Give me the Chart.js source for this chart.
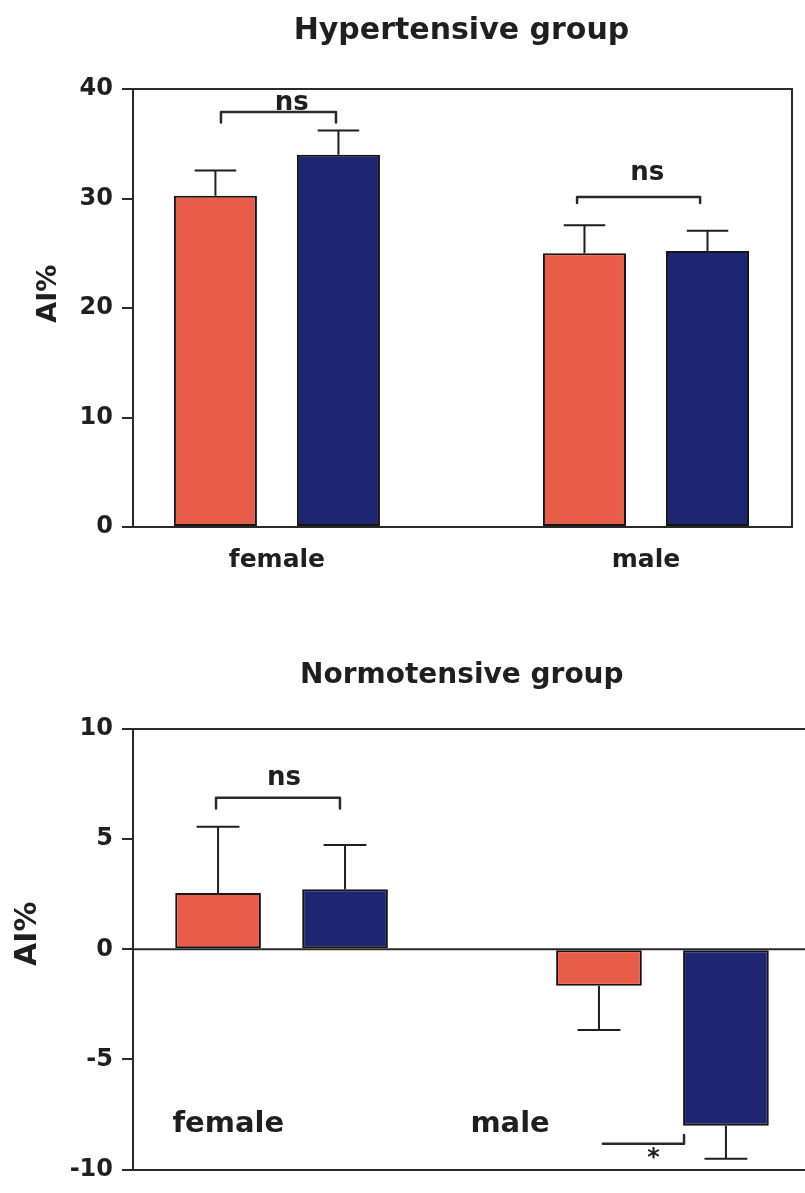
<!DOCTYPE html>
<html>
<head>
<meta charset="utf-8">
<title>AI% by sex</title>
<script src="https://cdn.jsdelivr.net/npm/chart.js@4.4.0/dist/chart.umd.min.js"></script>
<style>
  html, body { margin: 0; padding: 0; background: #fff; overflow: hidden; }
  #wrap { position: relative; width: 805px; height: 1193px; overflow: hidden; }
  #hyper { position: absolute; left: 0; top: 0; }
  #normo { position: absolute; left: 0; top: 600px; }
</style>
</head>
<body>
<div id="wrap">
  <canvas id="hyper" width="805" height="600"></canvas>
  <canvas id="normo" width="820" height="593"></canvas>
</div>
<script>
// data
var categories = ['female', 'male'];
var redSlots = [0, 3];
var blueSlots = [1, 4];
var categoryTicks = [0.5, 3.5];

var hyperRed = [30.25, 25.0];
var hyperRedErr = [2.3, 2.55];
var hyperBlue = [34.0, 25.2];
var hyperBlueErr = [2.2, 1.85];
var hyperTicks = [0, 10, 20, 30, 40];

var normoRed = [2.56, -1.66];
var normoRedErr = [3.0, 2.0];
var normoBlue = [2.73, -8.01];
var normoBlueErr = [2.0, 1.5];
var normoTicks = [-10, -5, 0, 5, 10];

var RED = '#E85D4A';
var NAVY = '#1E2572';
var INK = '#1f1f1f';
var LINE = '#2a2a2a';
var FONT = 'DejaVu Sans';

function points(slots, values) {
  var out = [];
  for (var i = 0; i < values.length; i++) out.push({x: slots[i], y: values[i]});
  return out;
}

function barSet(slots, values, errs, color) {
  return {
    data: points(slots, values),
    errors: errs,
    values: values,
    backgroundColor: color,
    borderColor: '#151515',
    borderWidth: 2,
    borderSkipped: false,
    grouped: false,
    barPercentage: 0.675,
    categoryPercentage: 1.0
  };
}

// error bars, brackets, titles, free labels
var overlay = {
  id: 'overlay',
  beforeDatasetsDraw: function (chart, args, o) {
    var ctx = chart.ctx, a = chart.chartArea, y = chart.scales.y;
    ctx.save();
    ctx.strokeStyle = LINE;
    ctx.lineWidth = 2;
    ctx.beginPath();
    ctx.moveTo(a.left, a.top);
    ctx.lineTo(a.right, a.top);
    if (o.box) {
      ctx.lineTo(a.right, a.bottom);
    }
    if (o.zeroLine) {
      ctx.moveTo(a.left, y.getPixelForValue(0));
      ctx.lineTo(a.right, y.getPixelForValue(0));
    }
    ctx.stroke();
    ctx.restore();
  },
  afterDatasetsDraw: function (chart, args, o) {
    var ctx = chart.ctx, a = chart.chartArea;
    var xs = chart.scales.x, ys = chart.scales.y;
    ctx.save();
    ctx.strokeStyle = INK;
    ctx.lineWidth = 2;
    chart.data.datasets.forEach(function (ds, d) {
      var meta = chart.getDatasetMeta(d);
      meta.data.forEach(function (el, i) {
        var v = ds.values[i];
        var sign = v >= 0 ? 1 : -1;
        var yEnd = ys.getPixelForValue(v + sign * ds.errors[i]);
        var half = el.width / 4;
        ctx.beginPath();
        ctx.moveTo(el.x, el.y);
        ctx.lineTo(el.x, yEnd);
        ctx.moveTo(el.x - half, yEnd);
        ctx.lineTo(el.x + half, yEnd);
        ctx.stroke();
      });
    });

    ctx.strokeStyle = LINE;
    ctx.lineWidth = 2.5;
    ctx.lineJoin = 'round';
    ctx.lineCap = 'round';
    ctx.fillStyle = INK;
    ctx.textAlign = 'center';
    o.brackets.forEach(function (b) {
      var x1 = xs.getPixelForValue(b.from), x2 = xs.getPixelForValue(b.to);
      var yy = ys.getPixelForValue(b.y);
      ctx.beginPath();
      ctx.moveTo(x1, ys.getPixelForValue(b.y + b.tipL));
      ctx.lineTo(x1, yy);
      ctx.lineTo(x2, yy);
      ctx.lineTo(x2, ys.getPixelForValue(b.y + b.tipR));
      ctx.stroke();
      ctx.font = 'bold ' + b.size + 'px "' + FONT + '"';
      ctx.textBaseline = 'alphabetic';
      ctx.fillText(b.text, xs.getPixelForValue(b.textX), ys.getPixelForValue(b.textY));
    });

    // free text labels inside the plot
    (o.labels || []).forEach(function (l) {
      ctx.font = 'bold ' + l.size + 'px "' + FONT + '"';
      ctx.textBaseline = 'alphabetic';
      ctx.fillText(l.text, xs.getPixelForValue(l.x), ys.getPixelForValue(l.y));
    });

    // chart title
    ctx.font = 'bold ' + o.title.size + 'px "' + FONT + '"';
    ctx.textBaseline = 'alphabetic';
    ctx.fillText(o.title.text, xs.getPixelForValue(o.title.x), ys.getPixelForValue(o.title.y));

    // y axis title
    ctx.translate(a.left - o.yTitle.offset, ys.getPixelForValue(o.yTitle.y));
    ctx.rotate(-Math.PI / 2);
    ctx.font = 'bold ' + o.yTitle.size + 'px "' + FONT + '"';
    ctx.textBaseline = 'middle';
    ctx.fillText(o.yTitle.text, 0, 0);
    ctx.restore();
  }
};

function makeChart(id, red, redErr, blue, blueErr, yTicks, xMax, xHeight, xLabels, padTop, padRight, annot) {
  return new Chart(document.getElementById(id), {
    type: 'bar',
    data: {
      datasets: [
        barSet(redSlots, red, redErr, RED),
        barSet(blueSlots, blue, blueErr, NAVY)
      ]
    },
    options: {
      responsive: false,
      animation: false,
      layout: { padding: { top: padTop, right: padRight, left: 0, bottom: 0 } },
      plugins: {
        legend: { display: false },
        tooltip: { enabled: false },
        overlay: annot
      },
      scales: {
        x: {
          type: 'linear',
          offset: false,
          bounds: 'data',
          min: -0.67,
          max: xMax,
          afterBuildTicks: function (s) {
            s.ticks = categoryTicks.map(function (v) { return {value: v}; });
          },
          afterFit: function (s) { s.height = xHeight; },
          grid: { display: false, drawTicks: false },
          border: { display: true, color: LINE, width: 2 },
          ticks: {
            display: xLabels,
            padding: 18,
            color: INK,
            font: { family: FONT, size: 25, weight: 'bold' },
            callback: function (v, i) { return categories[i]; }
          }
        },
        y: {
          min: yTicks[0],
          max: yTicks[yTicks.length - 1],
          afterBuildTicks: function (s) {
            s.ticks = yTicks.map(function (v) { return {value: v}; });
          },
          afterFit: function (s) { s.width = 133; },
          grid: { drawOnChartArea: false, drawTicks: true, tickLength: 11, tickColor: LINE, lineWidth: 2 },
          border: { display: true, color: LINE, width: 2 },
          ticks: {
            padding: 9,
            color: INK,
            font: { family: FONT, size: 24, weight: 'bold' }
          }
        }
      }
    },
    plugins: [overlay]
  });
}

makeChart('hyper', hyperRed, hyperRedErr, hyperBlue, hyperBlueErr, hyperTicks, 4.687, 73, true, 89, 13, {
  box: true,
  zeroLine: false,
  title: { text: 'Hypertensive group', size: 30, x: 2.0, y: 44.6 },
  yTitle: { text: 'AI%', size: 27, offset: 84.5, y: 21.3 },
  brackets: [
    { from: 0.045, to: 0.98, y: 37.9, tipL: -0.95, tipR: -0.95, text: 'ns', size: 26, textX: 0.62, textY: 38.1 },
    { from: 2.94, to: 3.94, y: 30.14, tipL: -0.55, tipR: -0.55, text: 'ns', size: 26, textX: 3.51, textY: 31.7 }
  ],
  labels: []
});

makeChart('normo', normoRed, normoRedErr, normoBlue, normoBlueErr, normoTicks, 4.67, 15, false, 129, 9, {
  box: false,
  zeroLine: true,
  title: { text: 'Normotensive group', size: 28, x: 1.92, y: 12.09 },
  yTitle: { text: 'AI%', size: 30, offset: 104.5, y: 0.71 },
  brackets: [
    { from: -0.016, to: 0.96, y: 6.88, tipL: -0.49, tipR: -0.49, text: 'ns', size: 26, textX: 0.52, textY: 7.46 },
    { from: 3.03, to: 3.67, y: -8.83, tipL: 0, tipR: 0.4, text: '*', size: 24, textX: 3.43, textY: -9.81 }
  ],
  labels: [
    { text: categories[0], size: 29, x: 0.08, y: -8.31 },
    { text: categories[1], size: 29, x: 2.3, y: -8.31 }
  ]
});
</script>
</body>
</html>
